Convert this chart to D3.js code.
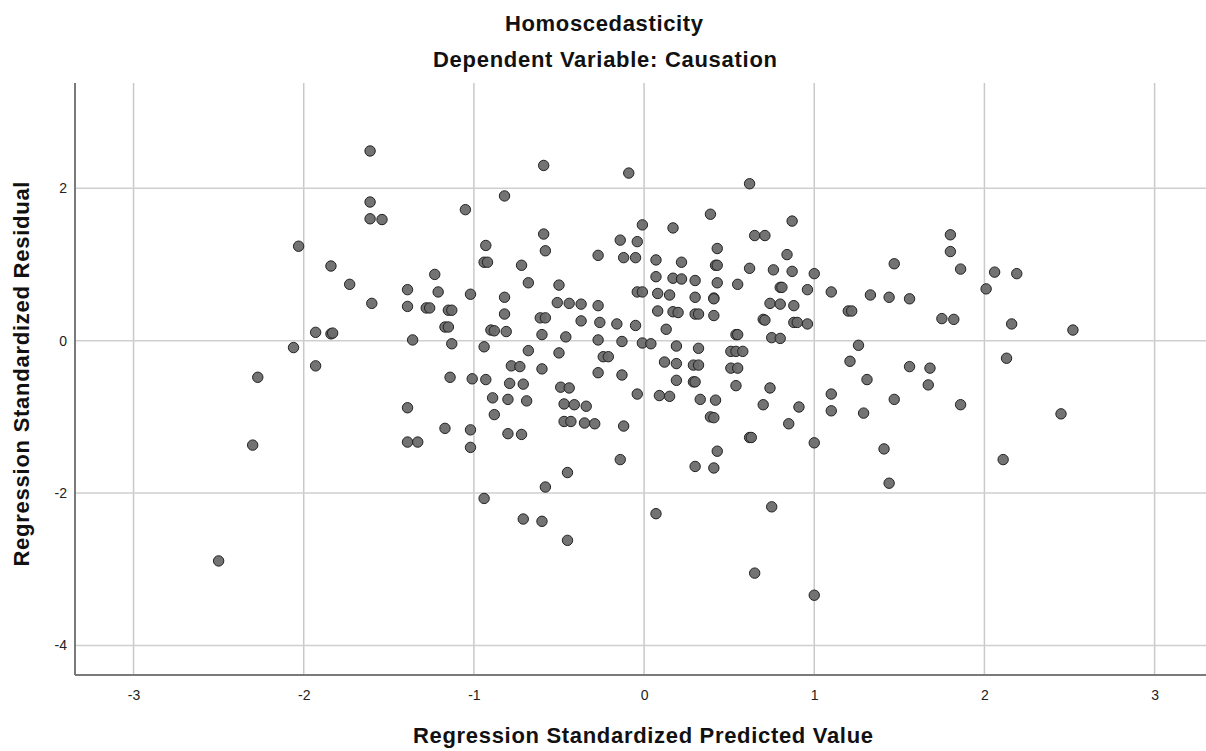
<!DOCTYPE html>
<html>
<head>
<meta charset="utf-8">
<script src="https://cdn.jsdelivr.net/npm/d3@7"></script>
<style>
  body { margin: 0; background: #fff; }
  text { font-family: "Liberation Sans", Arial, sans-serif; }
</style>
</head>
<body>
<div id="chart"></div>
<script>
// Scatterplot of standardized residuals against standardized predicted values

/* Data */
var predicted = [
  -1.61, -1.61, -1.61, -1.54, -2.03, -1.84, -1.73, -1.60, -1.39, -1.39,
  -1.23, -1.21, -1.28, -1.26, -1.15, -1.13, -1.17, -1.15, -1.93, -1.84,
  -1.83, -1.36, -1.13, -2.06, -1.93, -2.27, -1.14, -1.39, -1.17, -1.39,
  -1.33, -2.30, -2.50,
  -0.59, -0.09, 0.62, -0.82, -1.05, 0.39, 0.87, -0.01, 0.17, -0.59,
  0.65, 0.71, -0.14, -0.04, -0.93, 0.43, -0.58, -0.27, -0.12, -0.05,
  0.84, 0.07, 0.22, -0.94, -0.92, -0.72, 0.42, 0.43, 0.62, 0.76,
  0.87, 1.00, 0.07, 0.17, 0.22, 0.30, 0.43, 0.55, -0.68, -0.50,
  0.80, 0.81, 0.96, 1.10, -0.04, -0.01, 0.08, 0.15, 0.30, 0.41,
  0.41, -1.02, -0.82, -0.51, -0.44, -0.37, -0.27, 0.74, 0.80, 0.88,
  -0.82, 0.08, 0.17, 0.20, 0.30, 0.32, 0.41, -0.61, -0.58, -0.37,
  -0.26, -0.16, -0.05, 0.13, 0.70, 0.71, 0.88, 0.90, 0.96, -0.90,
  -0.88, -0.81, -0.60, -0.46, -0.27, -0.13, -0.01, 0.04, 0.54, 0.55,
  0.75, 0.80, -0.94, -0.68, -0.50, 0.19, 0.32, 0.51, 0.54, 0.58,
  -0.24, -0.21, 0.12, 0.19, 0.29, 0.32, 0.51, 0.55, -0.78, -0.73,
  -0.60, -0.27, -0.13, -1.01, -0.93,
  -0.79, -0.71, -0.49, -0.44, -0.89, -0.80, -0.69, -0.47, -0.41, -0.34,
  -0.88, -0.47, -0.43, -0.35, -0.29, -0.12, -1.02, -1.02, -0.80, -0.72,
  -0.14, -0.45, -0.58, -0.94, -0.71, -0.60, -0.45, -0.04, 0.09, 0.15,
  0.19, 0.29, 0.30, 0.33, 0.42, 0.39, 0.41, 0.43, 0.30, 0.41,
  0.54, 0.74, 0.70, 0.91, 0.85, 0.62, 0.63, 1.00, 1.10, 1.10,
  0.07, 0.75, 0.65, 1.00,
  1.80, 1.80, 1.47, 1.86, 2.06, 2.19, 2.01, 1.33, 1.44, 1.56,
  1.20, 1.22, 1.75, 1.82, 2.16, 2.52, 1.26, 1.21, 1.56, 1.68,
  2.13, 1.31, 1.67, 1.47, 1.86, 1.29, 2.45, 1.41, 2.11, 1.44
];

var residual = [
  2.49, 1.82, 1.60, 1.59, 1.24, 0.98, 0.74, 0.49, 0.67, 0.45,
  0.87, 0.64, 0.43, 0.43, 0.40, 0.40, 0.18, 0.18, 0.11, 0.09,
  0.10, 0.01, -0.04, -0.09, -0.33, -0.48, -0.48, -0.88, -1.15, -1.33,
  -1.33, -1.37, -2.89,
  2.30, 2.20, 2.06, 1.90, 1.72, 1.66, 1.57, 1.52, 1.48, 1.40,
  1.38, 1.38, 1.32, 1.30, 1.25, 1.21, 1.18, 1.12, 1.09, 1.09,
  1.13, 1.06, 1.03, 1.03, 1.03, 0.99, 0.99, 0.99, 0.95, 0.93,
  0.91, 0.88, 0.84, 0.82, 0.81, 0.79, 0.76, 0.74, 0.76, 0.73,
  0.70, 0.70, 0.67, 0.64, 0.64, 0.64, 0.62, 0.60, 0.57, 0.56,
  0.55, 0.61, 0.57, 0.50, 0.49, 0.48, 0.46, 0.49, 0.48, 0.46,
  0.35, 0.39, 0.38, 0.37, 0.35, 0.35, 0.33, 0.30, 0.30, 0.26,
  0.24, 0.22, 0.20, 0.15, 0.28, 0.27, 0.24, 0.24, 0.22, 0.14,
  0.13, 0.12, 0.08, 0.05, 0.01, -0.01, -0.03, -0.04, 0.08, 0.08,
  0.04, 0.03, -0.08, -0.13, -0.16, -0.07, -0.10, -0.14, -0.14, -0.14,
  -0.21, -0.21, -0.28, -0.30, -0.32, -0.32, -0.36, -0.36, -0.33, -0.34,
  -0.37, -0.42, -0.45, -0.50, -0.51,
  -0.56, -0.57, -0.61, -0.62, -0.75, -0.77, -0.79, -0.83, -0.84, -0.86,
  -0.97, -1.06, -1.06, -1.08, -1.09, -1.12, -1.17, -1.40, -1.22, -1.23,
  -1.56, -1.73, -1.92, -2.07, -2.34, -2.37, -2.62, -0.70, -0.72, -0.73,
  -0.52, -0.54, -0.54, -0.77, -0.78, -1.00, -1.01, -1.45, -1.65, -1.67,
  -0.59, -0.62, -0.84, -0.87, -1.09, -1.27, -1.27, -1.34, -0.70, -0.92,
  -2.27, -2.18, -3.05, -3.34,
  1.39, 1.17, 1.01, 0.94, 0.90, 0.88, 0.68, 0.60, 0.57, 0.55,
  0.39, 0.39, 0.29, 0.28, 0.22, 0.14, -0.06, -0.27, -0.34, -0.36,
  -0.23, -0.51, -0.58, -0.77, -0.84, -0.95, -0.96, -1.42, -1.56, -1.87
];

var xTicks = [-3, -2, -1, 0, 1, 2, 3];
var yTicks = [-4, -2, 0, 2];

var titleText = "Homoscedasticity";
var subtitleText = "Dependent Variable: Causation";
var xTitle = "Regression Standardized Predicted Value";
var yTitle = "Regression Standardized Residual";

var width = 1206;
var height = 751;
var margin = {top: 83, right: 0, bottom: 76, left: 75};

var points = [];
for (var i = 0; i < predicted.length; i++) {
  points.push({x: predicted[i], y: residual[i]});
}

/* Scales */
var xScale = d3.scaleLinear()
  .domain([-3.344, 3.302])
  .range([margin.left, width - margin.right]);

var yScale = d3.scaleLinear()
  .domain([-4.387, 3.382])
  .range([height - margin.bottom, margin.top]);

var svg = d3.select("#chart").append("svg")
  .attr("width", width)
  .attr("height", height);

/* Grid lines */
svg.append("g")
  .selectAll("line")
  .data(xTicks).enter()
  .append("line")
  .attr("x1", d => xScale(d))
  .attr("x2", d => xScale(d))
  .attr("y1", margin.top)
  .attr("y2", height - margin.bottom)
  .attr("stroke", "#c9c9c9")
  .attr("stroke-width", 1.5);

svg.append("g")
  .selectAll("line")
  .data(yTicks).enter()
  .append("line")
  .attr("x1", margin.left)
  .attr("x2", width - margin.right)
  .attr("y1", d => yScale(d))
  .attr("y2", d => yScale(d))
  .attr("stroke", "#cfcfcf")
  .attr("stroke-width", 1.5);

/* Axes - plain hyphen minus like SPSS */
var fmt = d => String(d);
var xAxis = d3.axisBottom(xScale).tickValues(xTicks).tickFormat(fmt).tickSize(0).tickPadding(15);
var yAxis = d3.axisLeft(yScale).tickValues(yTicks).tickFormat(fmt).tickSize(0).tickPadding(8);

var gx = svg.append("g")
  .attr("transform", `translate(0, ${height - margin.bottom})`)
  .call(xAxis);

var gy = svg.append("g")
  .attr("transform", `translate(${margin.left}, 0)`)
  .call(yAxis);

[gx, gy].forEach(function(g) {
  g.select(".domain").remove();
  g.selectAll("text")
    .attr("fill", "#222")
    .style("font-size", "14px")
    .style("font-family", "'Liberation Sans', Arial, sans-serif");
});

// axis frame: only left and bottom
svg.append("line")
  .attr("x1", margin.left).attr("x2", margin.left)
  .attr("y1", margin.top).attr("y2", height - margin.bottom)
  .attr("stroke", "#7a7a7a")
  .attr("stroke-width", 2);

svg.append("line")
  .attr("x1", margin.left).attr("x2", width - margin.right)
  .attr("y1", height - margin.bottom).attr("y2", height - margin.bottom)
  .attr("stroke", "#7a7a7a")
  .attr("stroke-width", 2);

/* Points */
svg.append("g")
  .selectAll("circle")
  .data(points).enter()
  .append("circle")
  .attr("cx", d => xScale(d.x))
  .attr("cy", d => yScale(d.y))
  .attr("r", 5.2)
  .attr("fill", "#6b6b6b")
  .attr("fill-opacity", 0.95)
  .attr("stroke", "#222")
  .attr("stroke-width", 1);

/* Titles */
svg.append("text")
  .attr("x", 604)
  .attr("y", 31)
  .attr("text-anchor", "middle")
  .attr("font-weight", "bold")
  .attr("font-size", 22)
  .attr("textLength", 198)
  .attr("fill", "#111")
  .text(titleText);

svg.append("text")
  .attr("x", 605)
  .attr("y", 67)
  .attr("text-anchor", "middle")
  .attr("font-weight", "bold")
  .attr("font-size", 22)
  .attr("textLength", 344)
  .attr("fill", "#111")
  .text(subtitleText);

svg.append("text")
  .attr("x", 643)
  .attr("y", 743)
  .attr("text-anchor", "middle")
  .attr("font-weight", "bold")
  .attr("font-size", 22)
  .attr("textLength", 460)
  .attr("fill", "#111")
  .text(xTitle);

svg.append("text")
  .attr("transform", "translate(29, 374) rotate(-90)")
  .attr("text-anchor", "middle")
  .attr("font-weight", "bold")
  .attr("font-size", 22)
  .attr("textLength", 385)
  .attr("fill", "#111")
  .text(yTitle);
</script>
</body>
</html>
